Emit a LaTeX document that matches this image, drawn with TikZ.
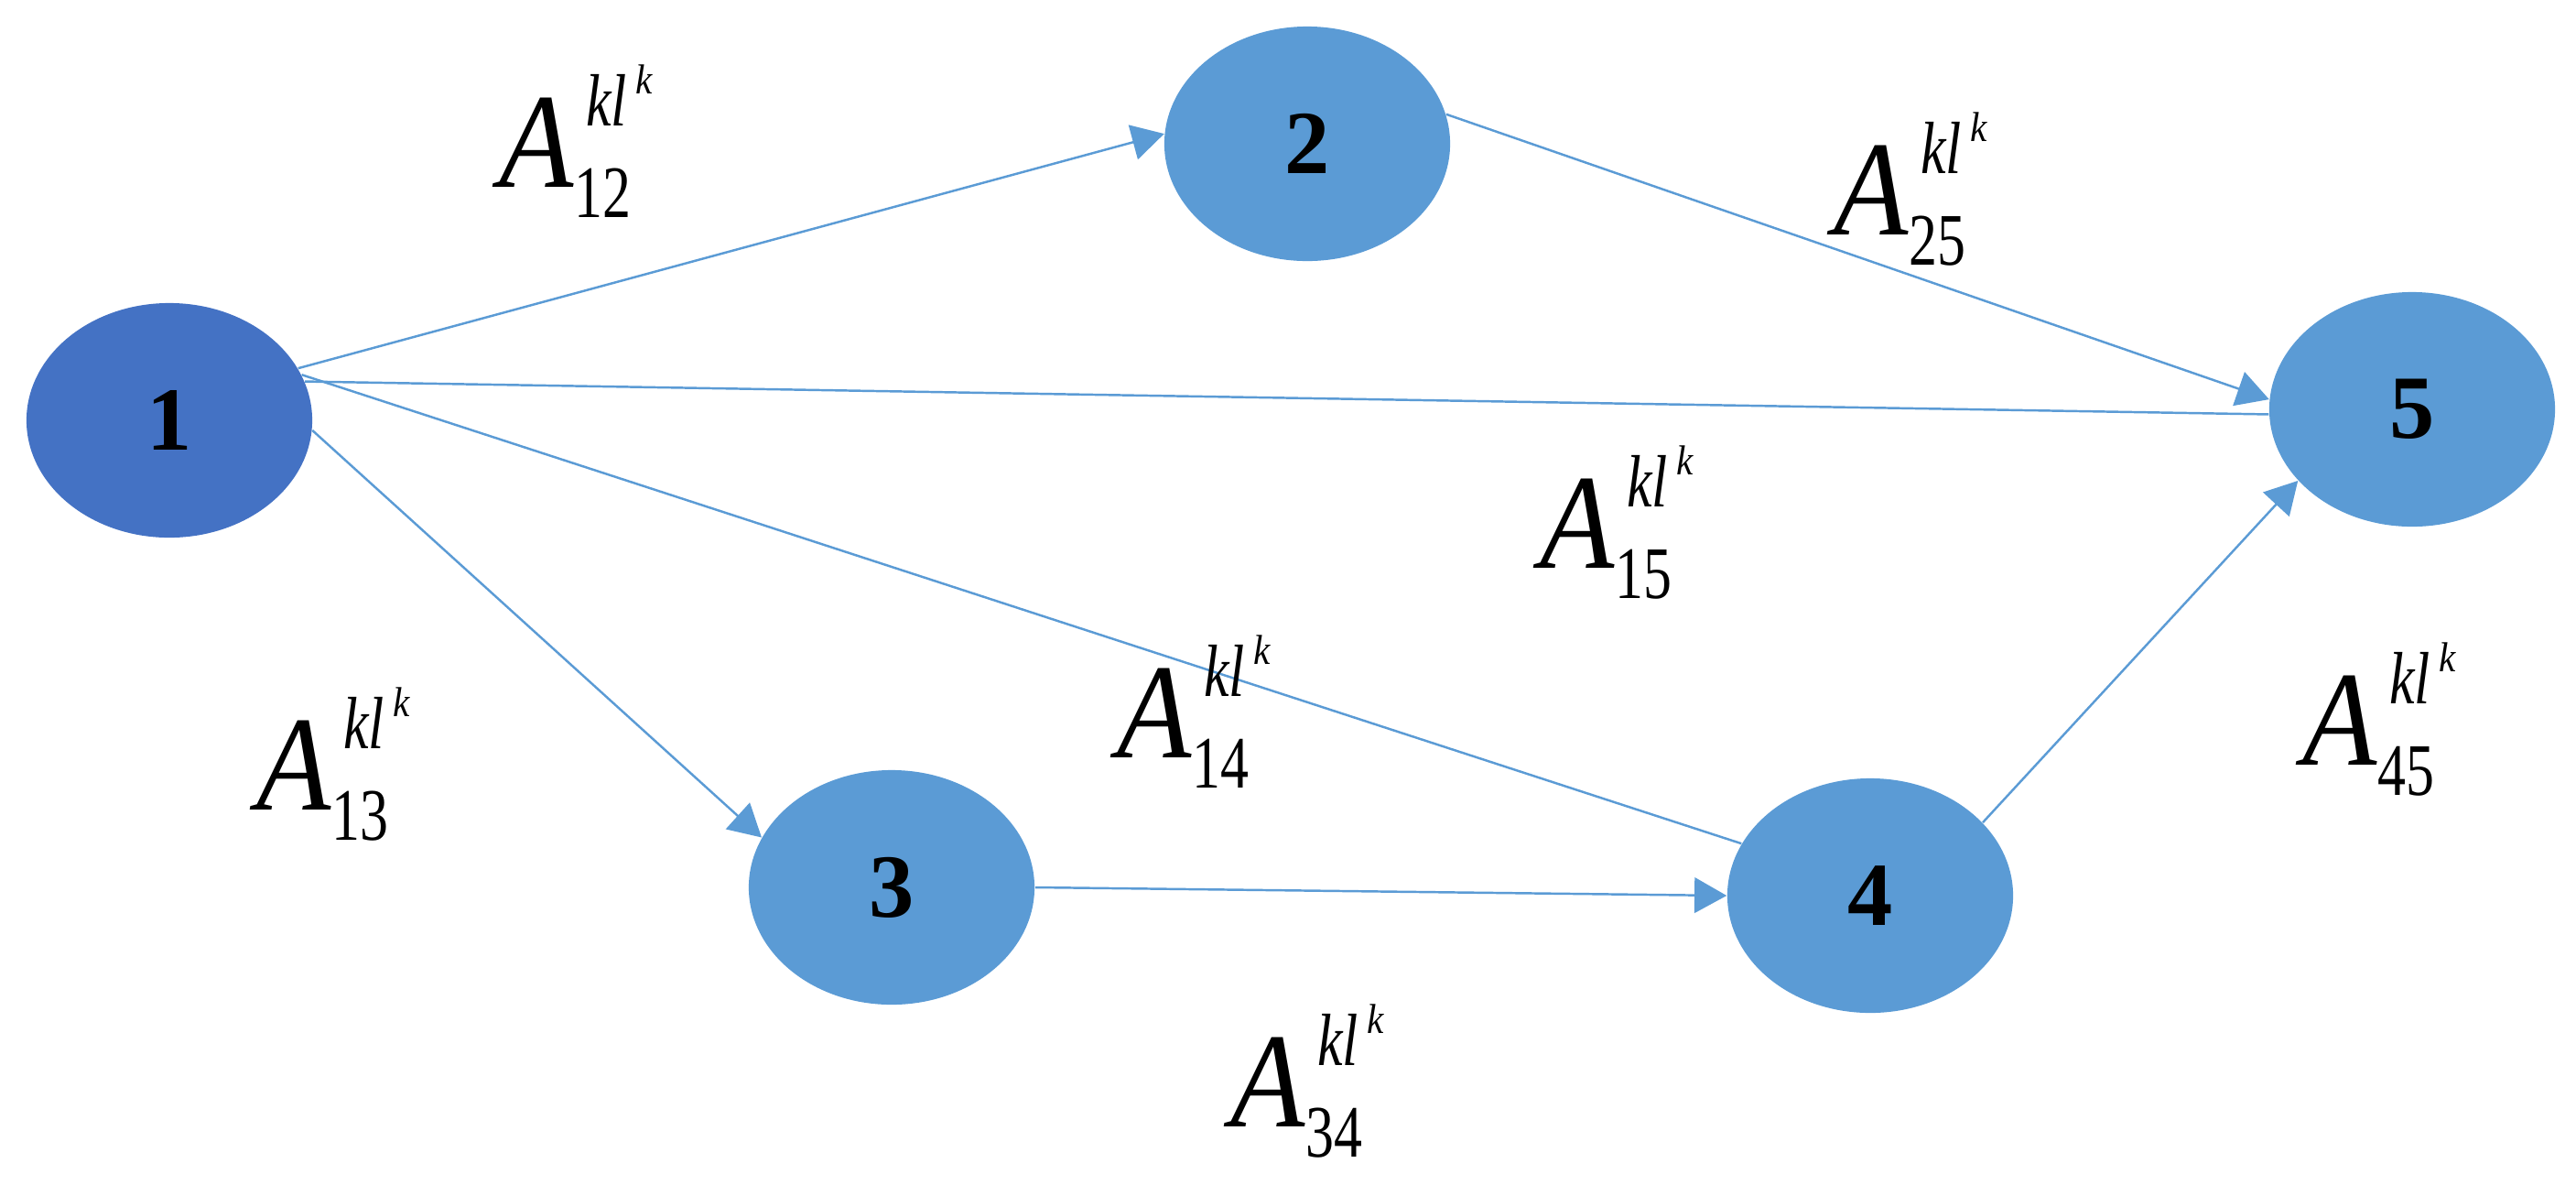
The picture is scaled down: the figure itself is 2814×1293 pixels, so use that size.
\documentclass[tikz,border=0pt]{standalone}
\usepackage{graphicx}
\usepackage{fontspec}
\setmainfont{Liberation Serif}
\usetikzlibrary{shapes.geometric,arrows.meta}
\definecolor{darkblue}{HTML}{4472C4}
\definecolor{lightblue}{HTML}{5B9BD5}
% A with sub- and superscripts, set by hand
\newcommand{\arclabel}[1]{\scalebox{0.9}[1]{\textit{A}\rlap{\raisebox{-9.4pt}{\scalebox{0.85}[1]{\fontsize{23}{23}\selectfont #1}}}\hspace{4pt}\raisebox{18.8pt}{\scalebox{0.85}[1]{\fontsize{23}{23}\selectfont\itshape kl}}\hspace{3pt}\raisebox{29pt}{\fontsize{13}{13}\selectfont\itshape k}}}

\begin{document}
\begin{tikzpicture}[x=0.01cm,y=-0.01cm]
		\tikzstyle{every node}+=[inner sep=0pt]
		\tikzstyle{vertex}=[ellipse, minimum width=3.12cm, minimum height=2.56cm, fill=lightblue, font=\fontsize{28}{28}\selectfont\bfseries]
		\tikzstyle{link}=[lightblue, line width=0.7pt]
		\tikzstyle{arrowed}=[-{Triangle[length=10pt,width=11pt]}]
		\tikzstyle{weight}=[anchor=base west, font=\fontsize{42}{42}\selectfont]
		\useasboundingbox (0,0) rectangle (2814,1293);
		\node [vertex, fill=darkblue] (q1) at (185,459) {1};
		\node [vertex] (q2) at (1428,157) {2};
		\node [vertex] (q3) at (974,969) {3};
		\node [vertex] (q4) at (2043,978) {4};
		\node [vertex] (q5) at (2635,447) {5};
		\draw [link, arrowed] (q1.22) -- (q2.176);
		\draw [link] (q1.16) -- (q5.182);
		\draw [link] (q1.19) -- (q4.158);
		\draw [link, arrowed] (q1.-4) -- (q3.159);
		\draw [link, arrowed] (q2.12) -- (q5.176);
		\draw [link, arrowed] (q3.0) -- (q4.180);
		\draw [link, arrowed] (q4.33) -- (q5.212);
		\node [weight] (w12) at (545,204) {\arclabel{12}};
		\node [weight] (w13) at (280,884) {\arclabel{13}};
		\node [weight] (w14) at (1220,827) {\arclabel{14}};
		\node [weight] (w15) at (1682,620) {\arclabel{15}};
		\node [weight] (w25) at (2003,256) {\arclabel{25}};
		\node [weight] (w34) at (1344,1230) {\arclabel{34}};
		\node [weight] (w45) at (2515,835) {\arclabel{45}};
	\end{tikzpicture}
\end{document}
